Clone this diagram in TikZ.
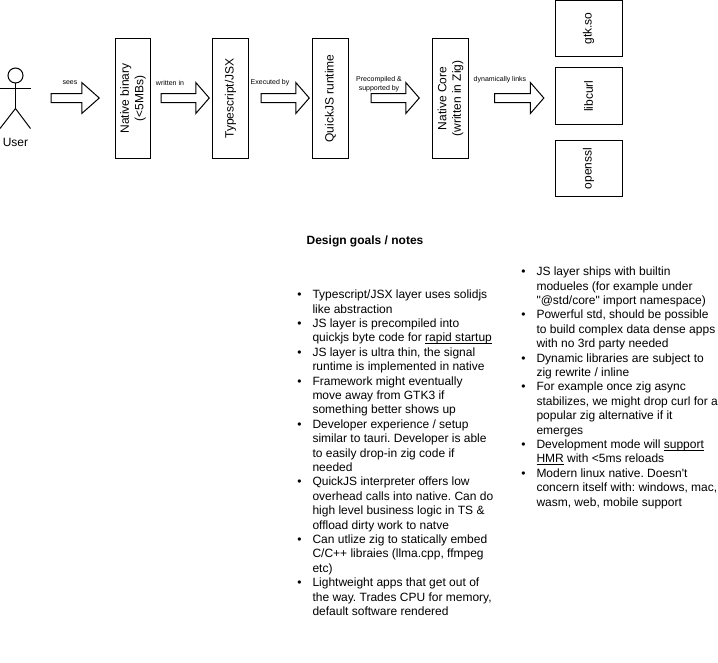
\documentclass[tikz,border=0pt]{standalone}
\usepackage{fontspec}
\setmainfont{Liberation Sans}[Ligatures={TeXOff,NoCommon}]
\usetikzlibrary{shapes.arrows}
\tikzset{
  x=0.75pt,y=-0.75pt,
  every path/.style={line width=0.75pt},
  rotbox/.style={draw,rotate=90,inner sep=0pt,align=center,font=\fontsize{9}{10.8}\selectfont},
  tallbox/.style={rotbox,minimum width=90pt,minimum height=26.5pt},
  libbox/.style={rotbox,minimum width=42.6pt,minimum height=50.25pt},
  blockarrow/.style={draw,single arrow,inner xsep=0pt,inner ysep=3pt,outer sep=0pt,
     single arrow head extend=8.25pt,minimum height=#1,anchor=west},
  smalllabel/.style={inner sep=0pt,align=center,font=\fontsize{5.25}{7}\selectfont},
  notes/.style={inner sep=0pt,anchor=north west,align=left,font=\fontsize{9}{10.8}\selectfont},
  plaintext/.style={inner sep=0pt,font=\fontsize{9}{10.8}\selectfont},
}
\newcommand{\bul}{\leavevmode\llap{•\hspace{8.2pt}}}
\newsavebox{\ulbox}
\newcommand{\ulin}[1]{\sbox{\ulbox}{#1}\rlap{\rule[-1.3pt]{\wd\ulbox}{0.5pt}}\usebox{\ulbox}}
\begin{document}
\frenchspacing
\begin{tikzpicture}
\useasboundingbox (0,0) rectangle (718,662);
% actor
\node[draw,circle,minimum size=11.25pt,inner sep=0pt,outer sep=0pt] (head) at (15.5,75.5) {};
\coordinate (armL) at (0,88.5);
\coordinate (armR) at (30.5,88.5);
\coordinate (hip) at (15.5,108.5);
\coordinate (footL) at (0,128.5);
\coordinate (footR) at (30.5,128.5);
\draw (head.south) -- (hip);
\draw (armL) -- (armR);
\draw (footL) -- (hip) -- (footR);
\node[plaintext] (user) at (15.5,142) {User};
% main boxes
\node[tallbox] (binary) at (133,98.5) {Native binary\\(<5MBs)};
\node[tallbox] (ts) at (230.5,98.5) {Typescript/JSX};
\node[tallbox] (qjs) at (330.5,98.5) {QuickJS runtime};
\node[tallbox] (core) at (450.5,98.5) {Native Core\\(written in Zig)};
\node[libbox] (gtk) at (588.5,28.5) {gtk.so};
\node[libbox] (curl) at (588.5,96) {libcurl};
\node[libbox] (ssl) at (588.5,168.5) {openssl};
% block arrows
\node[blockarrow=36.2pt,single arrow tip angle=83] (a1) at (51,98) {};
\node[blockarrow=36.2pt,single arrow tip angle=98] (a2) at (161,98) {};
\node[blockarrow=36.2pt,single arrow tip angle=98] (a3) at (261,98) {};
\node[blockarrow=36.2pt,single arrow tip angle=98] (a4) at (371,98) {};
\node[blockarrow=37pt,single arrow tip angle=98] (a5) at (494.5,98) {};
% arrow labels
\node[smalllabel] (l1) at (70,82.5) {sees};
\node[smalllabel] (l2) at (170,82.5) {written in};
\node[smalllabel] (l3) at (270,82.5) {Executed by};
\node[smalllabel] (l4) at (379,84) {Precompiled \&\\supported by};
\node[smalllabel] (l5) at (500,79.5) {dynamically links};
% notes
\node[plaintext] (title) at (365,241) {\bfseries Design goals / notes};
\node[notes] (left) at (312,289.5) {\bul Typescript/JSX layer uses solidjs\\
like abstraction\\
\bul JS layer is precompiled into\\
quickjs byte code for \ulin{rapid startup}\\
\bul JS layer is ultra thin, the signal\\
runtime is implemented in native\\
\bul Framework might eventually\\
move away from GTK3 if\\
something better shows up\\
\bul Developer experience / setup\\
similar to tauri. Developer is able\\
to easily drop-in zig code if\\
needed\\
\bul QuickJS interpreter offers low\\
overhead calls into native. Can do\\
high level business logic in TS \&\\
offload dirty work to natve\\
\bul Can utlize zig to statically embed\\
C/C++ libraies (llma.cpp, ffmpeg\\
etc)\\
\bul Lightweight apps that get out of\\
the way. Trades CPU for memory,\\
default software rendered};
\node[notes] (right) at (536,266.5) {\bul JS layer ships with builtin\\
modueles (for example under\\
"@std/core" import namespace)\\
\bul Powerful std, should be possible\\
to build complex data dense apps\\
with no 3rd party needed\\
\bul Dynamic libraries are subject to\\
zig rewrite / inline\\
\bul For example once zig async\\
stabilizes, we might drop curl for a\\
popular zig alternative if it\\
emerges\\
\bul Development mode will \ulin{support}\\
\ulin{HMR} with <5ms reloads\\
\bul Modern linux native. Doesn't\\
concern itself with: windows, mac,\\
wasm, web, mobile support};
\end{tikzpicture}
\end{document}
